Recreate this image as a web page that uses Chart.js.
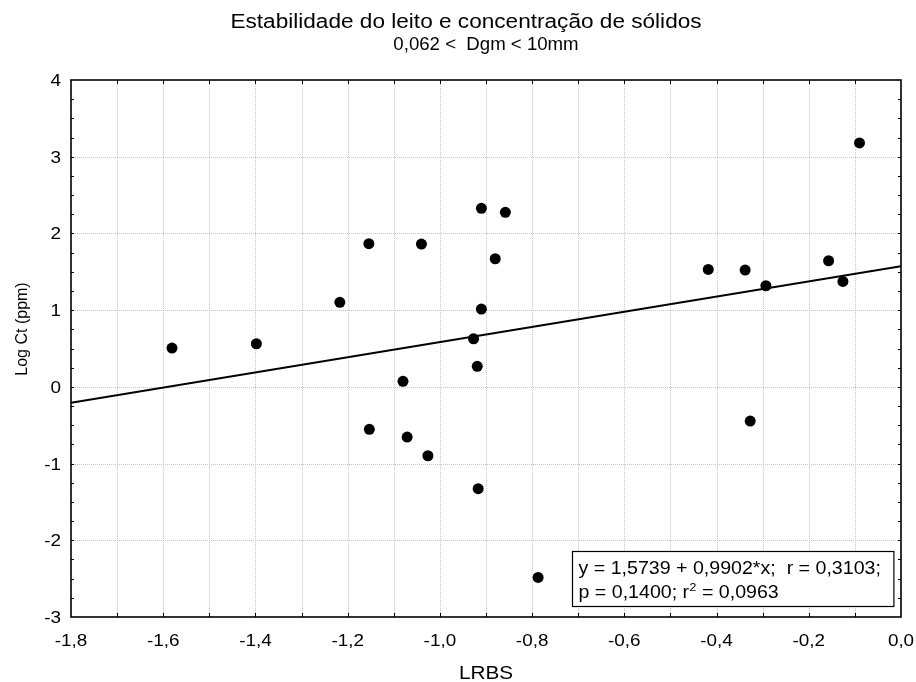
<!DOCTYPE html>
<html>
<head>
<meta charset="utf-8">
<script src="https://cdn.jsdelivr.net/npm/chart.js@4/dist/chart.umd.min.js"></script>
<style>
html, body { margin: 0; padding: 0; background: #ffffff; }
canvas { display: block; }
</style>
</head>
<body>
<canvas id="c" width="916" height="682"></canvas>
<script>
// ---- data ----
const titleLines = ['Estabilidade do leito e concentração de sólidos', '0,062 <  Dgm < 10mm'];
const xAxisTitle = 'LRBS';
const yAxisTitle = 'Log Ct (ppm)';

const lrbs  = [-1.581, -1.398, -1.217, -1.154, -1.153, -1.080, -1.071, -1.040, -1.026, -0.927, -0.919, -0.917,
               -0.910, -0.910, -0.880, -0.858, -0.787, -0.418, -0.338, -0.327, -0.293, -0.157, -0.126, -0.090];
const logCt = [ 0.506,  0.562,  1.102,  1.866, -0.554,  0.072, -0.654,  1.862, -0.898,  0.627,  0.267, -1.328,
                2.327,  1.014,  1.670,  2.275, -2.484,  1.531,  1.523, -0.446,  1.318,  1.644,  1.375,  3.179];

const xTickValues = [-1.8, -1.6, -1.4, -1.2, -1.0, -0.8, -0.6, -0.4, -0.2, 0.0];
const xTickLabels = ['-1,8', '-1,6', '-1,4', '-1,2', '-1,0', '-0,8', '-0,6', '-0,4', '-0,2', '0,0'];
const yTickValues = [-3, -2, -1, 0, 1, 2, 3, 4];
const yTickLabels = ['-3', '-2', '-1', '0', '1', '2', '3', '4'];

const fitIntercept = 1.5739;
const fitSlope = 0.9902;
const statsLine1 = 'y = 1,5739 + 0,9902*x;  r = 0,3103;';
const statsLine2a = 'p = 0,1400; r';
const statsSup = '2';
const statsLine2b = ' = 0,0963';

const xMin = -1.8, xMax = 0.0, yMin = -3, yMax = 4;

// ---- helpers ----
const FONT = '"Liberation Sans", Arial, sans-serif';
function stext(ctx, txt, x, y, size, sx, align) {
  ctx.save();
  ctx.font = size + 'px ' + FONT;
  ctx.textBaseline = 'alphabetic';
  ctx.textAlign = align || 'left';
  ctx.fillStyle = '#000000';
  ctx.translate(x, y);
  ctx.scale(sx, 1);
  ctx.fillText(txt, 0, 0);
  ctx.restore();
}
function swidth(ctx, txt, size, sx) {
  ctx.save();
  ctx.font = size + 'px ' + FONT;
  const w = ctx.measureText(txt).width * sx;
  ctx.restore();
  return w;
}
function seg(ctx, x1, y1, x2, y2) {
  ctx.beginPath(); ctx.moveTo(x1, y1); ctx.lineTo(x2, y2); ctx.stroke();
}

const decorPlugin = {
  id: 'decor',
  beforeDatasetsDraw(chart) {
    const ctx = chart.ctx, a = chart.chartArea, xs = chart.scales.x, ys = chart.scales.y;
    ctx.save();
    ctx.strokeStyle = '#c6c6c6';
    ctx.lineWidth = 1;
    ctx.setLineDash([1, 1]);
    for (let i = 1; i < 18; i++) {
      const px = Math.round(xs.getPixelForValue(xMin + i * 0.1)) + 0.5;
      seg(ctx, px, a.top, px, a.bottom);
    }
    for (let v = yMin + 1; v < yMax; v++) {
      const py = Math.round(ys.getPixelForValue(v)) + 0.5;
      seg(ctx, a.left, py, a.right, py);
    }
    ctx.restore();
  },
  afterDatasetsDraw(chart) {
    const ctx = chart.ctx, a = chart.chartArea, xs = chart.scales.x, ys = chart.scales.y;
    ctx.save();
    ctx.setLineDash([]);
    ctx.strokeStyle = '#000000';
    // inward ticks
    ctx.lineWidth = 1;
    for (let i = 1; i < 18; i++) {
      const px = Math.round(xs.getPixelForValue(xMin + i * 0.1)) + 0.5;
      seg(ctx, px, a.bottom, px, a.bottom - 4);
      seg(ctx, px, a.top, px, a.top + 4);
    }
    for (let i = 1; i < 28; i++) {
      const py = Math.round(ys.getPixelForValue(yMin + i * 0.25)) + 0.5;
      seg(ctx, a.left, py, a.left + 3, py);
      seg(ctx, a.right, py, a.right - 3, py);
    }
    // frame
    ctx.lineWidth = 1.6;
    ctx.strokeRect(a.left, a.top, a.right - a.left, a.bottom - a.top);

    // tick labels
    xTickValues.forEach((v, i) => {
      stext(ctx, xTickLabels[i], xs.getPixelForValue(v), a.bottom + 29, 16, 1.18, 'center');
    });
    yTickValues.forEach((v, i) => {
      stext(ctx, yTickLabels[i], a.left - 10, ys.getPixelForValue(v) + 6, 16, 1.18, 'right');
    });

    // axis titles
    const cx = (a.left + a.right) / 2;
    stext(ctx, xAxisTitle, cx, a.bottom + 62, 18, 1.15, 'center');
    ctx.save();
    ctx.translate(27, 329);
    ctx.rotate(-Math.PI / 2);
    ctx.font = '16px ' + FONT;
    ctx.textAlign = 'center';
    ctx.textBaseline = 'alphabetic';
    ctx.fillStyle = '#000';
    ctx.fillText(yAxisTitle, 0, 0);
    ctx.restore();

    // title
    stext(ctx, titleLines[0], cx - 20, 28, 20, 1.13, 'center');
    stext(ctx, titleLines[1], cx, 50, 19, 0.98, 'center');

    // stats box
    const fs = 17.5, fsx = 1.12;
    const w1 = swidth(ctx, statsLine1, fs, fsx);
    const boxW = w1 + 19, boxH = 55;
    const bx = Math.round(a.right - 8 - boxW) + 0.5;
    const by = Math.round(a.bottom - 11 - boxH) + 0.5;
    ctx.fillStyle = '#ffffff';
    ctx.fillRect(bx, by, boxW, boxH);
    ctx.strokeStyle = '#000000';
    ctx.lineWidth = 1.2;
    ctx.strokeRect(bx, by, boxW, boxH);
    const tx = bx + 6;
    stext(ctx, statsLine1, tx, by + 22, fs, fsx, 'left');
    stext(ctx, statsLine2a, tx, by + 46, fs, fsx, 'left');
    const w2a = swidth(ctx, statsLine2a, fs, fsx);
    stext(ctx, statsSup, tx + w2a + 0.5, by + 39, 11, fsx, 'left');
    const wsup = swidth(ctx, statsSup, 11, fsx);
    stext(ctx, statsLine2b, tx + w2a + wsup + 0.5, by + 46, fs, fsx, 'left');
    ctx.restore();
  }
};

const points = lrbs.map((x, i) => ({ x: x, y: logCt[i] }));
const fitLine = [
  { x: xMin, y: fitIntercept + fitSlope * xMin },
  { x: xMax, y: fitIntercept + fitSlope * xMax }
];

new Chart(document.getElementById('c').getContext('2d'), {
  type: 'scatter',
  data: {
    datasets: [
      {
        label: 'Log Ct',
        data: points,
        backgroundColor: '#000000',
        borderColor: '#000000',
        borderWidth: 0,
        pointRadius: 5.5,
        pointHoverRadius: 5.5,
        order: 0
      },
      {
        label: 'fit',
        data: fitLine,
        showLine: true,
        borderColor: '#000000',
        borderWidth: 2,
        pointRadius: 0,
        pointHoverRadius: 0,
        fill: false,
        order: 1
      }
    ]
  },
  options: {
    responsive: false,
    animation: false,
    devicePixelRatio: 1,
    events: [],
    layout: { padding: { left: 71, right: 15, top: 80, bottom: 65 } },
    plugins: {
      legend: { display: false },
      title: { display: false },
      tooltip: { enabled: false }
    },
    scales: {
      x: { type: 'linear', min: xMin, max: xMax, display: false },
      y: { type: 'linear', min: yMin, max: yMax, display: false }
    }
  },
  plugins: [decorPlugin]
});
</script>
</body>
</html>
